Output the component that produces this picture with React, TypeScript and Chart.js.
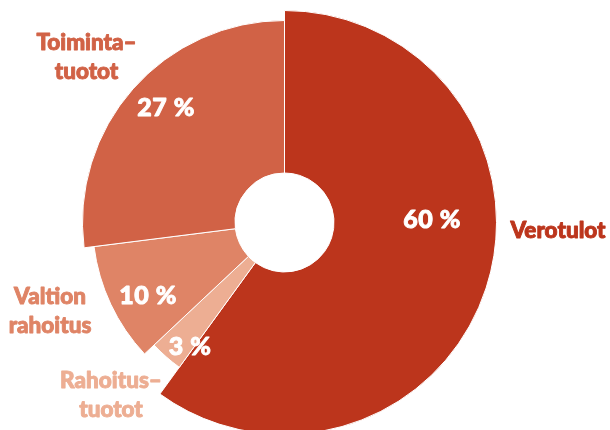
import React, { useEffect, useRef } from "react";
import { Chart, registerables } from "chart.js";

Chart.register(...registerables);

// ---- data ----
const categories = ["Verotulot", "Rahoitustuotot", "Valtion rahoitus", "Toimintatuotot"];
const shares = [60, 3, 10, 27];
const percentLabels = ["60 %", "3 %", "10 %", "27 %"];
const nameLines = [["Verotulot"], ["Rahoitus–", "tuotot"], ["Valtion", "rahoitus"], ["Toiminta–", "tuotot"]];

// ---- styles ----
const COLORS = ["#BC351C", "#EDAE93", "#DF8466", "#D16246"];
const SLICE_RADIUS = [212, 179, 192, 202];
const HOLE_RADIUS = 49.5;
const PCT_OFFSET = [
  [147.5, 5.5],
  [-94.5, 132.5],
  [-136.5, 81.5],
  [-118.5, -106.5],
];
const NAME_OFFSET = [
  [273.5, 15.5],
  [-173.5, 165.5],
  [-234.5, 81.5],
  [-198, -172.5],
];
const LINE_HEIGHT = 28.5;
const FONT_FAMILY = "Lato, 'Open Sans', sans-serif";

const radiusPlugin = {
  id: "sliceRadius",
  afterDatasetsUpdate(chart: any) {
    const meta = chart.getDatasetMeta(0);
    meta.data.forEach((arc: any, i: number) => {
      arc.outerRadius = SLICE_RADIUS[i];
      arc.innerRadius = HOLE_RADIUS;
    });
  },
};

function heavyText(ctx: CanvasRenderingContext2D, text: string, x: number, y: number, color: string) {
  ctx.fillStyle = color;
  ctx.strokeStyle = color;
  ctx.lineWidth = 0.9;
  ctx.lineJoin = "round";
  ctx.fillText(text, x, y);
  ctx.strokeText(text, x, y);
}

const labelPlugin = {
  id: "sliceLabels",
  afterDraw(chart: any) {
    const ctx = chart.ctx as CanvasRenderingContext2D;
    const meta = chart.getDatasetMeta(0);
    if (!meta.data.length) return;
    const cx = meta.data[0].x;
    const cy = meta.data[0].y;
    ctx.save();
    ctx.textAlign = "center";
    ctx.textBaseline = "alphabetic";
    // percentages
    ctx.font = `900 25px ${FONT_FAMILY}`;
    try {
      (ctx as any).letterSpacing = "0.5px";
    } catch (e) {}
    percentLabels.forEach((t, i) => {
      heavyText(ctx, t, cx + PCT_OFFSET[i][0], cy + PCT_OFFSET[i][1], "#ffffff");
    });
    // category names
    ctx.font = `900 22.5px ${FONT_FAMILY}`;
    try {
      (ctx as any).letterSpacing = "0px";
    } catch (e) {}
    nameLines.forEach((lines, i) => {
      lines.forEach((line, j) => {
        heavyText(ctx, line, cx + NAME_OFFSET[i][0], cy + NAME_OFFSET[i][1] + j * LINE_HEIGHT, COLORS[i]);
      });
    });
    ctx.restore();
  },
};

export default function App() {
  const canvasRef = useRef<HTMLCanvasElement | null>(null);

  useEffect(() => {
    if (!canvasRef.current) return;
    const chart = new Chart(canvasRef.current, {
      type: "doughnut",
      data: {
        labels: categories,
        datasets: [
          {
            data: shares,
            backgroundColor: COLORS,
            borderColor: "#ffffff",
            borderWidth: 1,
          },
        ],
      },
      options: {
        responsive: false,
        animation: false,
        events: [],
        layout: { padding: { left: 0, right: 41, top: 15, bottom: 0 } },
        plugins: {
          legend: { display: false },
          tooltip: { enabled: false },
        },
      },
      plugins: [radiusPlugin, labelPlugin],
    });
    return () => chart.destroy();
  }, []);

  return (
    <div style={{ position: "absolute", left: 0, top: 0, width: 610, height: 430, background: "#fff" }}>
      <canvas ref={canvasRef} width={610} height={430} style={{ width: 610, height: 430, display: "block" }} />
    </div>
  );
}
